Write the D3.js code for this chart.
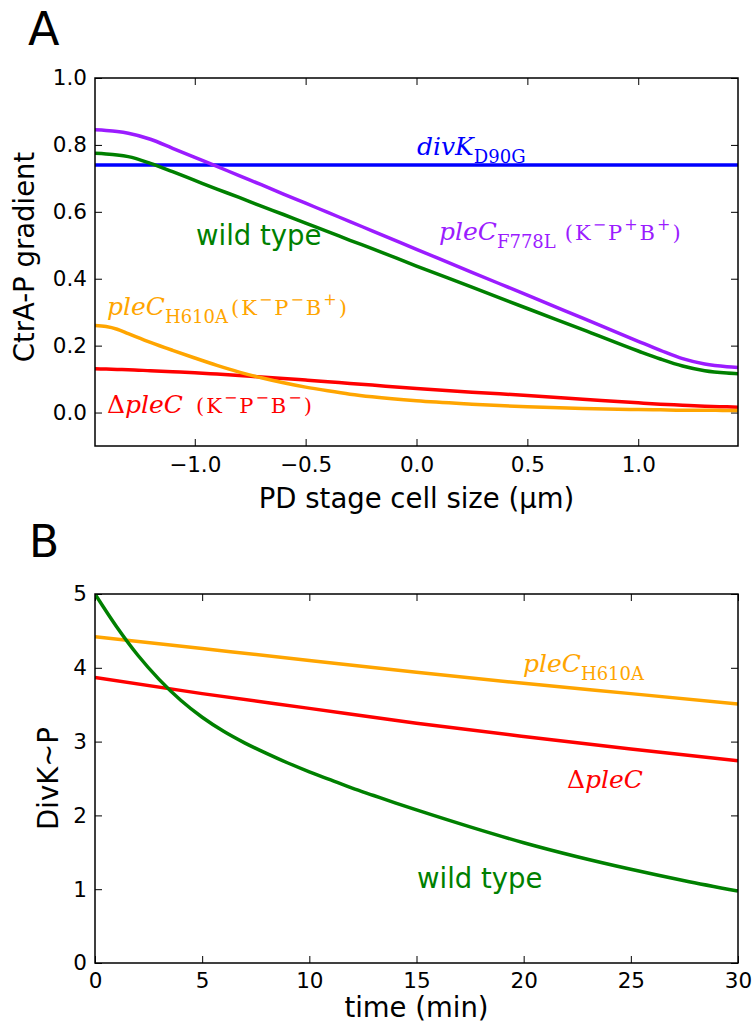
<!DOCTYPE html>
<html>
<head>
<meta charset="utf-8">
<script src="https://cdn.jsdelivr.net/npm/d3@7"></script>
<style>
  html, body { margin: 0; padding: 0; background: #fff; }
  svg { display: block; }
  text { font-family: "DejaVu Sans", sans-serif; }
  .math { font-family: "DejaVu Serif", "Liberation Serif", serif; }
</style>
</head>
<body>
<svg id="fig" width="752" height="1029"></svg>
<script>
// ---- Panel A: CtrA-P gradient along the PD-stage cell ----
const cellSize = [-1.45, -1.4, -1.35, -1.3, -1.2, -1.1, -1.0, -0.9, -0.8, -0.7, -0.6, -0.5, -0.4, -0.3, -0.2, 0.0, 0.25, 0.5, 0.75, 1.0, 1.1, 1.2, 1.3, 1.4, 1.45];
const ctraWildType = [0.775, 0.773, 0.77, 0.765, 0.745, 0.72, 0.694, 0.668, 0.643, 0.617, 0.592, 0.566, 0.541, 0.515, 0.49, 0.438, 0.375, 0.311, 0.248, 0.184, 0.16, 0.139, 0.125, 0.118, 0.116];
const ctraF778L   = [0.845, 0.843, 0.84, 0.835, 0.817, 0.79, 0.763, 0.736, 0.708, 0.681, 0.653, 0.626, 0.598, 0.571, 0.543, 0.488, 0.419, 0.351, 0.282, 0.213, 0.186, 0.161, 0.145, 0.137, 0.135];
const ctraD90G    = [0.74, 0.74, 0.74, 0.74, 0.74, 0.74, 0.74, 0.74, 0.74, 0.74, 0.74, 0.74, 0.74, 0.74, 0.74, 0.74, 0.74, 0.74, 0.74, 0.74, 0.74, 0.74, 0.74, 0.74, 0.74];
const ctraH610A   = [0.26, 0.257, 0.249, 0.236, 0.21, 0.186, 0.163, 0.141, 0.121, 0.104, 0.089, 0.076, 0.065, 0.055, 0.047, 0.035, 0.025, 0.017, 0.012, 0.009, 0.008, 0.007, 0.007, 0.006, 0.006];
const ctraDelta   = [0.131, 0.13, 0.129, 0.128, 0.125, 0.122, 0.119, 0.115, 0.111, 0.106, 0.102, 0.097, 0.092, 0.087, 0.082, 0.072, 0.061, 0.051, 0.04, 0.029, 0.025, 0.022, 0.019, 0.017, 0.016];
const ticksA_x = [-1.0, -0.5, 0.0, 0.5, 1.0];
const ticksA_y = [0.0, 0.2, 0.4, 0.6, 0.8, 1.0];

// ---- Panel B: DivK~P over time ----
const timeFine = [0, 1, 2, 3, 4, 5, 6, 7, 8, 9, 10, 11, 12, 13, 14, 15, 17.5, 20, 22.5, 25, 27.5, 30];
const divkWildType = [5.0, 4.56, 4.17, 3.84, 3.56, 3.33, 3.14, 2.98, 2.84, 2.71, 2.59, 2.48, 2.37, 2.27, 2.17, 2.075, 1.845, 1.63, 1.44, 1.27, 1.115, 0.975];
const timeCoarse = [0, 5, 10, 15, 20, 25, 30];
const divkH610A = [4.42, 4.26, 4.10, 3.94, 3.79, 3.65, 3.51];
const divkDelta = [3.87, 3.65, 3.45, 3.25, 3.07, 2.90, 2.74];
const ticksB_x = [0, 5, 10, 15, 20, 25, 30];
const ticksB_y = [0, 1, 2, 3, 4, 5];

const COLORS = { wt: "#008000", f778l: "#9b1cff", d90g: "#0000ff", h610a: "#ffa500", delta: "#ff0000" };

const svg = d3.select("#fig");
const L = 95, R = 738;

const xA = d3.scaleLinear().domain([-1.45, 1.45]).range([L, R]);
const yA = d3.scaleLinear().domain([-0.1, 1.0]).range([446, 78]);
const xB = d3.scaleLinear().domain([0, 30]).range([L, R]);
const yB = d3.scaleLinear().domain([0, 5]).range([963, 594]);

function drawFrame(x, y, xt, yt, fmtX, fmtY, padX, id) {
  const [y0, y1] = y.range();
  const g = svg.append("g");
  g.append("defs").append("clipPath").attr("id", id)
    .append("rect").attr("x", L).attr("y", y1).attr("width", R - L).attr("height", y0 - y1);

  const bottom = d3.axisBottom(x).tickValues(xt).tickFormat(fmtX).tickSizeInner(-7).tickSizeOuter(0).tickPadding(padX);
  const top = d3.axisTop(x).tickValues(xt).tickFormat("").tickSizeInner(-7).tickSizeOuter(0);
  const left = d3.axisLeft(y).tickValues(yt).tickFormat(fmtY).tickSizeInner(-7).tickSizeOuter(0).tickPadding(8);
  const right = d3.axisRight(y).tickValues(yt).tickFormat("").tickSizeInner(-7).tickSizeOuter(0);

  const styleAxis = sel => {
    sel.select(".domain").remove();
    sel.selectAll(".tick line").attr("stroke", "#000").attr("stroke-width", 1);
    sel.selectAll(".tick text").attr("fill", "#000").style("font-size", "21.5px").style("font-family", "DejaVu Sans");
  };
  g.append("g").attr("transform", `translate(0,${y0})`).call(bottom).call(styleAxis);
  g.append("g").attr("transform", `translate(0,${y1})`).call(top).call(styleAxis);
  g.append("g").attr("transform", `translate(${L},0)`).call(left).call(styleAxis);
  g.append("g").attr("transform", `translate(${R},0)`).call(right).call(styleAxis);
  return g;
}

function drawBorder(y) {
  const [y0, y1] = y.range();
  svg.append("rect").attr("x", L).attr("y", y1).attr("width", R - L).attr("height", y0 - y1)
    .attr("fill", "none").attr("stroke", "#000").attr("stroke-width", 1.5);
}

function drawLine(xs, ys, x, y, color, clipId) {
  const line = d3.line().x((d, i) => x(xs[i])).y(d => y(d)).curve(d3.curveMonotoneX);
  svg.append("path").datum(ys).attr("d", line)
    .attr("fill", "none").attr("stroke", color).attr("stroke-width", 3.5)
    .attr("stroke-linejoin", "round").attr("clip-path", `url(#${clipId})`);
}

// Text built from pieces: it = italic, rm = upright, sub/sup = scripts, rmS = smaller upright
function mathText(x, y, parts, color, size) {
  const t = svg.append("text").attr("class", "math").attr("x", x).attr("y", y).attr("fill", color).style("font-size", size + "px");
  let shift = 0;
  parts.forEach(p => {
    const ts = t.append("tspan").text(p.t);
    let target = 0, fs = size, italic = false, ls = 0;
    if (p.s === "it") italic = true;
    if (p.s === "sub") { target = 0.3 * size; fs = size * 0.72; }
    if (p.s === "sup") { target = -0.4 * size; fs = size * 0.64; ls = 2; }
    if (p.s === "rmS") { fs = size * 0.84; ls = 2; }
    ts.attr("dy", target - shift).style("font-size", fs + "px")
      .style("font-style", italic ? "italic" : "normal").style("letter-spacing", ls + "px");
    if (p.dx) ts.attr("dx", p.dx);
    shift = target;
  });
  return t;
}

// ---------- Panel A ----------
drawFrame(xA, yA, ticksA_x, ticksA_y, d3.format(".1f"), d3.format(".1f"), 11, "clipA");
drawLine(cellSize, ctraD90G, xA, yA, COLORS.d90g, "clipA");
drawLine(cellSize, ctraF778L, xA, yA, COLORS.f778l, "clipA");
drawLine(cellSize, ctraWildType, xA, yA, COLORS.wt, "clipA");
drawLine(cellSize, ctraDelta, xA, yA, COLORS.delta, "clipA");
drawLine(cellSize, ctraH610A, xA, yA, COLORS.h610a, "clipA");
drawBorder(yA);

svg.append("text").attr("x", 28).attr("y", 45).style("font-size", "46px").text("A");
svg.append("text").attr("transform", `translate(34,${(446 + 78) / 2 - 5}) rotate(-90)`)
  .attr("text-anchor", "middle").style("font-size", "27.5px").text("CtrA-P gradient");
svg.append("text").attr("x", (L + R) / 2).attr("y", 508)
  .attr("text-anchor", "middle").style("font-size", "27.5px").text("PD stage cell size (μm)");

mathText(417, 155, [{t: "divK", s: "it"}, {t: "D90G", s: "sub"}], COLORS.d90g, 25);
mathText(439, 240, [{t: "pleC", s: "it"}, {t: "F778L", s: "sub"}, {t: "(K", s: "rmS", dx: 9}, {t: "−", s: "sup"}, {t: "P", s: "rmS"}, {t: "+", s: "sup"}, {t: "B", s: "rmS"}, {t: "+", s: "sup"}, {t: ")", s: "rmS"}], COLORS.f778l, 25);
svg.append("text").attr("x", 196).attr("y", 245).attr("fill", COLORS.wt).style("font-size", "27.5px").text("wild type");
mathText(107, 315, [{t: "pleC", s: "it"}, {t: "H610A", s: "sub"}, {t: "(K", s: "rmS", dx: 3}, {t: "−", s: "sup"}, {t: "P", s: "rmS"}, {t: "−", s: "sup"}, {t: "B", s: "rmS"}, {t: "+", s: "sup"}, {t: ")", s: "rmS"}], COLORS.h610a, 25);
mathText(107, 413, [{t: "Δ", s: "rm"}, {t: "pleC", s: "it"}, {t: "(K", s: "rmS", dx: 13}, {t: "−", s: "sup"}, {t: "P", s: "rmS"}, {t: "−", s: "sup"}, {t: "B", s: "rmS"}, {t: "−", s: "sup"}, {t: ")", s: "rmS"}], COLORS.delta, 25);

// ---------- Panel B ----------
drawFrame(xB, yB, ticksB_x, ticksB_y, d3.format("d"), d3.format("d"), 10, "clipB");
drawLine(timeCoarse, divkH610A, xB, yB, COLORS.h610a, "clipB");
drawLine(timeCoarse, divkDelta, xB, yB, COLORS.delta, "clipB");
drawLine(timeFine, divkWildType, xB, yB, COLORS.wt, "clipB");
drawBorder(yB);

svg.append("text").attr("x", 29).attr("y", 557).style("font-size", "44px").text("B");
svg.append("text").attr("transform", `translate(58,${(963 + 594) / 2}) rotate(-90)`)
  .attr("text-anchor", "middle").style("font-size", "27.5px").text("DivK~P");
svg.append("text").attr("x", (L + R) / 2).attr("y", 1017)
  .attr("text-anchor", "middle").style("font-size", "27.5px").text("time (min)");

mathText(523, 672, [{t: "pleC", s: "it"}, {t: "H610A", s: "sub"}], COLORS.h610a, 25);
mathText(567, 788, [{t: "Δ", s: "rm"}, {t: "pleC", s: "it"}], COLORS.delta, 25);
svg.append("text").attr("x", 417).attr("y", 888).attr("fill", COLORS.wt).style("font-size", "27.5px").text("wild type");
</script>
</body>
</html>
